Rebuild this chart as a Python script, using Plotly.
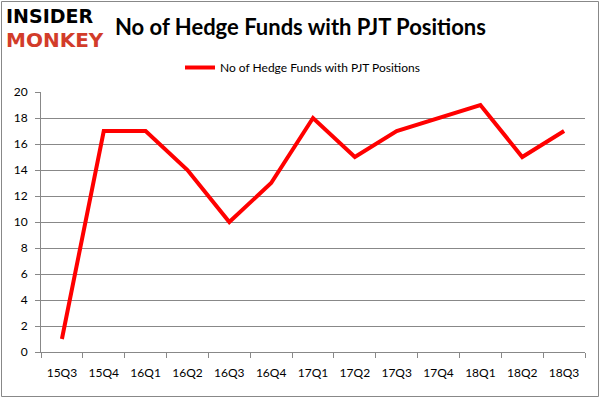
import plotly.graph_objects as go

quarters = ["15Q3", "15Q4", "16Q1", "16Q2", "16Q3", "16Q4", "17Q1",
            "17Q2", "17Q3", "17Q4", "18Q1", "18Q2", "18Q3"]
hedge_funds = [1, 17, 17, 14, 10, 13, 18, 15, 17, 18, 19, 15, 17]
y_ticks = [0, 2, 4, 6, 8, 10, 12, 14, 16, 18, 20]
series_name = "No of Hedge Funds with PJT Positions"
title_text = "No of Hedge Funds with PJT Positions"

W, H = 602, 398
L, R, T, B = 41, 17, 92, 46
pw, ph = W - L - R, H - T - B

def px_x(x):
    return (x - L) / pw

def px_y(y):
    return (H - B - y) / ph

fig = go.Figure()
fig.add_trace(go.Scatter(
    x=quarters, y=hedge_funds, mode="lines", name=series_name,
    line=dict(color="#ff0000", width=4),
))

fig.update_layout(
    width=W, height=H,
    margin=dict(l=L, r=R, t=T, b=B, pad=0),
    paper_bgcolor="white", plot_bgcolor="white",
    font=dict(family="Lato, sans-serif", size=12, color="black"),
    showlegend=True,
    legend=dict(orientation="h", x=px_x(180), y=px_y(53), xanchor="left", yanchor="top",
                font=dict(size=12, family="Lato, sans-serif"), bgcolor="rgba(0,0,0,0)"),
    xaxis=dict(
        type="category", range=[-0.5, 12.5], showgrid=False,
        showline=True, linecolor="#888888", linewidth=1,
        ticks="outside", tickson="boundaries", ticklen=5, tickcolor="#888888",
        tickfont=dict(size=12), ticklabelstandoff=10, fixedrange=True,
    ),
    yaxis=dict(
        range=[0, 20], tickvals=y_ticks, showgrid=True, gridcolor="#888888", gridwidth=1,
        showline=True, linecolor="#888888", linewidth=1,
        ticks="outside", ticklen=5, tickcolor="#888888",
        tickfont=dict(size=12), ticklabelstandoff=5, zeroline=False, fixedrange=True,
    ),
    shapes=[dict(type="rect", xref="paper", yref="paper",
                 x0=px_x(1.5), x1=px_x(598.5), y0=px_y(396.5), y1=px_y(1.5),
                 line=dict(color="#888888", width=1), fillcolor="rgba(0,0,0,0)", layer="below")],
    annotations=[
        dict(text="<b>" + title_text + "</b>", xref="paper", yref="paper",
             x=px_x(300), y=px_y(26), xanchor="center", yanchor="middle",
             showarrow=False, font=dict(size=22, family="Lato, sans-serif", color="black")),
        dict(text="<b>INSIDER</b>", xref="paper", yref="paper",
             x=px_x(4), y=px_y(16), xanchor="left", yanchor="middle",
             showarrow=False, font=dict(size=19, family="DejaVu Sans", color="black")),
        dict(text="<b>MONKEY</b>", xref="paper", yref="paper",
             x=px_x(4), y=px_y(40), xanchor="left", yanchor="middle",
             showarrow=False, font=dict(size=20, family="DejaVu Sans", color="#d23c2a")),
    ],
)

fig.write_html("out.html", config={"displayModeBar": False},
               post_script="document.body.style.margin='0';")
